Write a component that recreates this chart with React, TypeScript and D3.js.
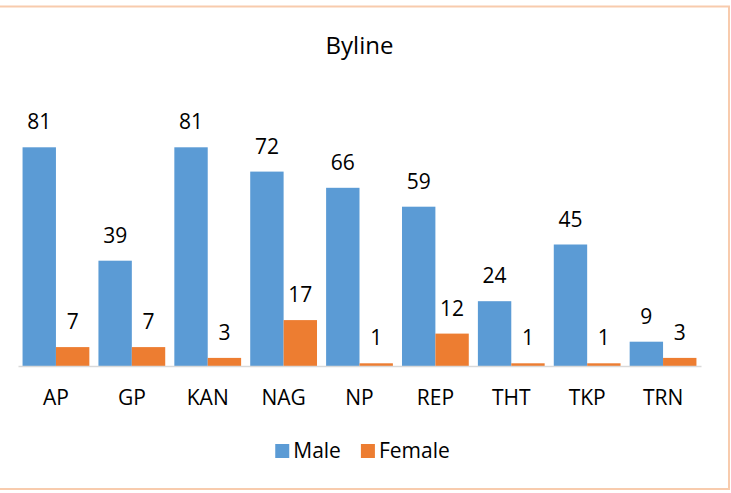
import { useRef, useEffect } from 'react';
import * as d3 from 'd3';

const categories = ['AP', 'GP', 'KAN', 'NAG', 'NP', 'REP', 'THT', 'TKP', 'TRN'];
const male = [81, 39, 81, 72, 66, 59, 24, 45, 9];
const female = [7, 7, 3, 17, 1, 12, 1, 1, 3];
const seriesNames = ['Male', 'Female'];
const colors = ['#5b9bd5', '#ed7d31'];

export default function App() {
  const svgRef = useRef<SVGSVGElement>(null);

  useEffect(() => {
    if (!svgRef.current) return;
    const width = 731;
    const height = 493;
    const font = '"Open Sans", sans-serif';

    const svg = d3.select(svgRef.current);
    svg.selectAll('*').remove();
    svg.attr('width', width).attr('height', height);

    svg.append('rect')
      .attr('x', -2).attr('y', 6.5)
      .attr('width', 731).attr('height', 482.5)
      .attr('fill', '#fff')
      .attr('stroke', '#f8cbad')
      .attr('stroke-width', 2);

    const x = d3.scaleBand<string>()
      .domain(categories)
      .range([18, 701])
      .paddingInner(0.12)
      .paddingOuter(0.06);

    const xs = d3.scaleBand<string>()
      .domain(seriesNames)
      .range([0, x.bandwidth()]);

    const y = d3.scaleLinear()
      .domain([0, 90])
      .range([366, 123]);

    const data = [male, female];

    // Bars and labels
    data.forEach((vals, si) => {
      const g = svg.append('g');
      g.selectAll('rect')
        .data(vals)
        .join('rect')
        .attr('x', (_, i) => x(categories[i])! + xs(seriesNames[si])!)
        .attr('y', d => y(d))
        .attr('width', xs.bandwidth())
        .attr('height', d => y(0) - y(d))
        .attr('fill', colors[si]);

      g.selectAll('text')
        .data(vals)
        .join('text')
        .attr('x', (_, i) => x(categories[i])! + xs(seriesNames[si])! + xs.bandwidth() / 2)
        .attr('y', d => y(d) - 18)
        .attr('text-anchor', 'middle')
        .attr('font-family', font)
        .attr('font-size', 21)
        .attr('fill', '#000')
        .text(d => d);
    });

    // X axis
    const axis = svg.append('g')
      .attr('transform', `translate(0,${y(0)})`)
      .call(d3.axisBottom(x).tickSize(0).tickPadding(0));
    axis.select('.domain').attr('stroke', '#d9d9d9').attr('stroke-width', 1.5);
    axis.selectAll('.tick text')
      .attr('dy', 0)
      .attr('y', 39)
      .attr('font-family', font)
      .attr('font-size', 21)
      .attr('fill', '#000');

    // Title
    svg.append('text')
      .attr('x', 359.5)
      .attr('y', 54)
      .attr('text-anchor', 'middle')
      .attr('font-family', font)
      .attr('font-size', 24)
      .attr('fill', '#000')
      .text('Byline');

    // Legend
    const legend = svg.append('g');
    let cx = 0;
    seriesNames.forEach((name, i) => {
      const item = legend.append('g').attr('transform', `translate(${cx},0)`);
      item.append('rect')
        .attr('x', 0).attr('y', 444)
        .attr('width', 14).attr('height', 14)
        .attr('fill', colors[i]);
      const t = item.append('text')
        .attr('x', 18)
        .attr('y', 458)
        .attr('font-family', font)
        .attr('font-size', 21)
        .attr('fill', '#000')
        .text(name);
      const w = (t.node() as SVGTextElement).getComputedTextLength();
      cx += 18 + w + 20;
    });
    const total = cx - 20;
    legend.attr('transform', `translate(${362.5 - total / 2},0)`);
  }, []);

  return <svg ref={svgRef} style={{ position: 'absolute', left: 0, top: 0 }} />;
}
